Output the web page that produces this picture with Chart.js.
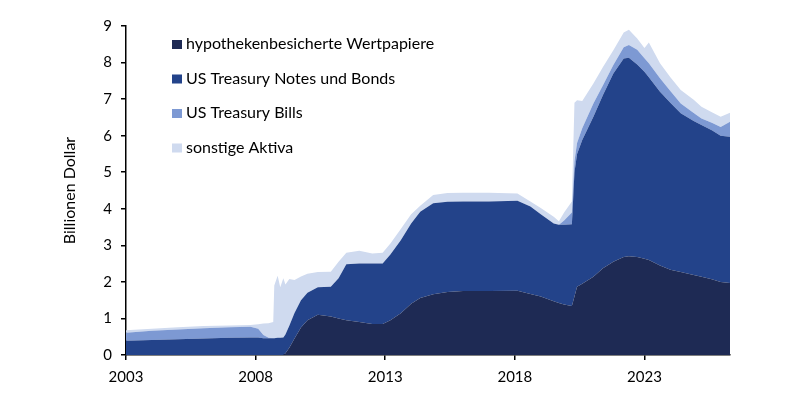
<!DOCTYPE html>
<html>
<head>
<meta charset="utf-8">
<script src="https://cdn.jsdelivr.net/npm/chart.js@4/dist/chart.umd.min.js"></script>
<style>
  html, body { margin: 0; padding: 0; background: #fff; }
  #wrap { width: 800px; height: 400px; }
</style>
</head>
<body>
<div id="wrap"><canvas id="fedChart"></canvas></div>
<script>
// Zeitpunkte (Jahre, dezimal)
const years = [2003.0, 2004.0, 2005.0, 2006.0, 2007.0, 2007.8, 2008.1, 2008.3, 2008.5, 2008.68,
  2008.72, 2008.85, 2008.95, 2009.07, 2009.15, 2009.3, 2009.5, 2009.75, 2010.0, 2010.4,
  2010.9, 2011.2, 2011.5, 2012.0, 2012.5, 2012.9, 2013.2, 2013.6, 2014.0, 2014.35,
  2014.85, 2015.4, 2016.0, 2017.0, 2018.1, 2018.6, 2019.0, 2019.5, 2019.7, 2019.9,
  2020.2, 2020.3, 2020.4, 2020.6, 2021.03, 2021.4, 2021.8, 2022.2, 2022.4, 2022.72,
  2023.0, 2023.17, 2023.6, 2024.0, 2024.4, 2024.9, 2025.2, 2025.6, 2025.94, 2026.3];

// Billionen Dollar
const mbs = [0, 0, 0, 0, 0, 0, 0, 0, 0, 0,
  0, 0, 0, 0, 0.05, 0.2, 0.45, 0.75, 0.95, 1.1,
  1.05, 1.0, 0.95, 0.9, 0.85, 0.85, 0.95, 1.14, 1.4, 1.56,
  1.66, 1.72, 1.75, 1.75, 1.76, 1.67, 1.6, 1.47, 1.42, 1.38,
  1.34, 1.6, 1.87, 1.95, 2.14, 2.37, 2.55, 2.68, 2.7, 2.68,
  2.63, 2.6, 2.45, 2.33, 2.27, 2.19, 2.14, 2.07, 2.0, 1.97];

const notesBonds = [0.39, 0.41, 0.43, 0.45, 0.47, 0.48, 0.48, 0.46, 0.46, 0.46,
  0.46, 0.47, 0.47, 0.48, 0.51, 0.6, 0.7, 0.75, 0.75, 0.75,
  0.82, 1.1, 1.53, 1.6, 1.65, 1.65, 1.8, 2.0, 2.2, 2.36,
  2.49, 2.47, 2.45, 2.45, 2.46, 2.39, 2.25, 2.13, 2.14, 2.18,
  2.24, 3.4, 3.63, 3.93, 4.38, 4.74, 5.15, 5.43, 5.43, 5.27,
  5.12, 5.0, 4.75, 4.57, 4.34, 4.21, 4.15, 4.08, 4.0, 4.0];

const bills = [0.22, 0.25, 0.27, 0.28, 0.29, 0.29, 0.24, 0.09, 0.01, 0,
  0, 0, 0, 0, 0, 0, 0, 0, 0, 0,
  0, 0, 0, 0, 0, 0, 0, 0, 0, 0,
  0, 0, 0, 0, 0, 0, 0, 0, 0, 0.12,
  0.32, 0.3, 0.3, 0.32, 0.36, 0.27, 0.23, 0.31, 0.35, 0.4,
  0.37, 0.38, 0.37, 0.32, 0.27, 0.22, 0.18, 0.2, 0.24, 0.41];

const other = [0.07, 0.06, 0.06, 0.06, 0.05, 0.05, 0.12, 0.31, 0.4, 0.44,
  1.44, 1.7, 1.38, 1.62, 1.37, 1.28, 0.9, 0.65, 0.52, 0.42,
  0.41, 0.45, 0.32, 0.35, 0.28, 0.3, 0.3, 0.31, 0.25, 0.16,
  0.23, 0.24, 0.24, 0.24, 0.2, 0.14, 0.17, 0.18, 0.1, 0.22,
  0.3, 1.6, 1.17, 0.75, 0.55, 0.5, 0.41, 0.4, 0.42, 0.31,
  0.28, 0.57, 0.41, 0.38, 0.37, 0.36, 0.32, 0.29, 0.28, 0.25];

const seriesNames = ["hypothekenbesicherte Wertpapiere", "US Treasury Notes und Bonds", "US Treasury Bills", "sonstige Aktiva"];
const seriesColors = ["#1e2a54", "#23438a", "#7d99d3", "#cfdaef"];
const xTicks = [2003, 2008, 2013, 2018, 2023];

const FONT = "Lato, 'Open Sans', sans-serif";

function toPoints(values) {
  return values.map((v, i) => ({ x: years[i], y: v }));
}

const datasets = [mbs, notesBonds, bills, other].map((vals, i) => ({
  label: seriesNames[i],
  data: toPoints(vals),
  backgroundColor: seriesColors[i],
  borderWidth: 0,
  pointRadius: 0,
  fill: i === 0 ? "origin" : "-1",
  tension: 0
}));

// Legende oben links im Diagramm
const innerLegend = {
  id: "innerLegend",
  afterDraw(chart) {
    const ctx = chart.ctx;
    ctx.save();
    ctx.font = "16px " + FONT;
    ctx.textBaseline = "middle";
    chart.data.datasets.forEach((ds, i) => {
      const y = 44 + i * 34.5;
      ctx.fillStyle = ds.backgroundColor;
      ctx.fillRect(172, y - 4, 10, 9);
      ctx.fillStyle = "#000";
      ctx.fillText(ds.label, 186, y);
    });
    ctx.restore();
  }
};

new Chart(document.getElementById("fedChart"), {
  type: "line",
  data: { datasets: datasets },
  options: {
    responsive: true,
    maintainAspectRatio: false,
    animation: false,
    layout: { padding: { left: 60, right: 70, top: 26, bottom: 0 } },
    plugins: {
      legend: { display: false },
      tooltip: { enabled: false }
    },
    scales: {
      x: {
        type: "linear",
        min: 2003,
        max: 2026.3,
        afterBuildTicks: (scale) => { scale.ticks = xTicks.map(v => ({ value: v })); },
        afterFit: (scale) => { scale.height = 45; },
        grid: { drawOnChartArea: false, drawTicks: true, tickLength: 5, color: "#000", lineWidth: 1.5 },
        border: { display: true, color: "#000", width: 1.5 },
        ticks: {
          color: "#000",
          padding: 8,
          maxRotation: 0,
          font: { family: FONT, size: 15 },
          callback: (v) => String(v)
        }
      },
      y: {
        stacked: true,
        min: 0,
        max: 9,
        afterFit: (scale) => { scale.width = 66; },
        grid: { drawOnChartArea: false, drawTicks: true, tickLength: 5, color: "#000", lineWidth: 1.5 },
        border: { display: true, color: "#000", width: 1.5 },
        ticks: {
          stepSize: 1,
          color: "#000",
          padding: 9,
          font: { family: FONT, size: 15 }
        },
        title: {
          display: true,
          text: "Billionen Dollar",
          color: "#000",
          font: { family: FONT, size: 16 },
          padding: { top: 0, bottom: 0 }
        }
      }
    }
  },
  plugins: [innerLegend]
});
</script>
</body>
</html>
